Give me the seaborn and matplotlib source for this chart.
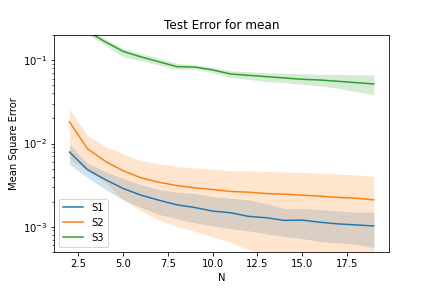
import seaborn as sns
import matplotlib.pyplot as plt
import numpy as np
import pandas as pd

N = list(range(2, 20))

# mean test error per series
s1 = [0.0079, 0.00485, 0.00368, 0.00288, 0.00239, 0.00208, 0.00183, 0.0017, 0.00154,
      0.00147, 0.00133, 0.00128, 0.00119, 0.0012, 0.00113, 0.00108, 0.00105, 0.00102]
s2 = [0.0182, 0.00867, 0.0061, 0.0047, 0.00386, 0.00342, 0.00312, 0.00293, 0.0028,
      0.00265, 0.0026, 0.0025, 0.00246, 0.00239, 0.00233, 0.00225, 0.0022, 0.0021]
s3 = [0.45, 0.224, 0.167, 0.128, 0.110, 0.096, 0.084, 0.083, 0.0766,
      0.0686, 0.066, 0.0637, 0.0614, 0.0592, 0.058, 0.056, 0.054, 0.052]

# band limits
s1_lo = [0.0056, 0.0039, 0.0028, 0.0021, 0.0017, 0.0014, 0.00125, 0.00111, 0.00102,
         0.00095, 0.00089, 0.00082, 0.00076, 0.00072, 0.00066, 0.00064, 0.00061, 0.00056]
s1_hi = [0.0097, 0.0058, 0.0046, 0.0038, 0.0032, 0.0028, 0.0026, 0.0025, 0.0023,
         0.0022, 0.0021, 0.0019, 0.00165, 0.00165, 0.0016, 0.00155, 0.0015, 0.0015]
s2_lo = [0.0064, 0.0048, 0.0034, 0.0021, 0.00155, 0.0012, 0.001, 0.00088, 0.00075,
         0.00065, 0.00053, 0.00046, 0.00042, 0.00038, 0.00035, 0.00033, 0.0003, 0.00028]
s2_hi = [0.026, 0.0125, 0.0092, 0.0075, 0.0062, 0.0057, 0.0053, 0.0051, 0.0049,
         0.0047, 0.00468, 0.0046, 0.00456, 0.0045, 0.0044, 0.0043, 0.0042, 0.004]
s3_lo = [0.40, 0.205, 0.153, 0.110, 0.099, 0.088, 0.078, 0.0787, 0.0711,
         0.0625, 0.0592, 0.0555, 0.054, 0.0515, 0.0492, 0.0461, 0.0421, 0.0384]
s3_hi = [0.50, 0.245, 0.180, 0.139, 0.121, 0.106, 0.092, 0.0879, 0.0824,
         0.0751, 0.073, 0.0711, 0.0698, 0.0686, 0.068, 0.068, 0.0673, 0.0667]

names = ["S1", "S2", "S3"]
means = [s1, s2, s3]
lows = [s1_lo, s2_lo, s3_lo]
highs = [s1_hi, s2_hi, s3_hi]

df = pd.DataFrame({
    "N": N * 3,
    "err": s1 + s2 + s3,
    "series": [n for n in names for _ in N],
})

colors = sns.color_palette("tab10", 3)

fig, ax = plt.subplots(figsize=(6, 4), dpi=72)
fig.subplots_adjust(left=0.1257, right=0.9005, top=0.8774, bottom=0.126)

sns.lineplot(data=df, x="N", y="err", hue="series", palette=colors, ax=ax)
for lo, hi, c in zip(lows, highs, colors):
    ax.fill_between(N, lo, hi, color=c, alpha=0.2, linewidth=0)

ax.set_yscale("log")
ax.set_ylim(5e-4, 0.2)
ax.set_title("Test Error for mean")
ax.set_xlabel("N")
ax.set_ylabel("Mean Square Error")
ax.legend(loc="lower left")

plt.savefig("out.png", dpi=72)
